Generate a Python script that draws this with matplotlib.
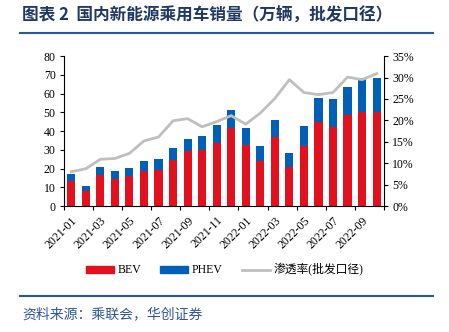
import numpy as np
import matplotlib
matplotlib.use('Agg')
import matplotlib.pyplot as plt
from matplotlib.lines import Line2D
from matplotlib.patches import Patch

months = ['2021-01', '2021-02', '2021-03', '2021-04', '2021-05', '2021-06',
          '2021-07', '2021-08', '2021-09', '2021-10', '2021-11', '2021-12',
          '2022-01', '2022-02', '2022-03', '2022-04', '2022-05', '2022-06',
          '2022-07', '2022-08', '2022-09', '2022-10']
bev = [13.3, 8.0, 16.4, 14.6, 16.0, 18.7, 19.4, 24.4, 29.2, 29.9, 33.6, 41.8,
       32.5, 24.0, 36.6, 20.8, 32.0, 44.8, 42.1, 48.4, 50.3, 50.3]
total = [17.1, 10.7, 20.8, 18.8, 20.4, 23.8, 25.2, 30.9, 35.9, 37.3, 43.4, 51.0,
         41.6, 32.2, 46.0, 28.4, 42.7, 57.6, 56.9, 63.6, 68.2, 68.1]
phev = [t - b for t, b in zip(total, bev)]
rate = [8.0, 8.7, 10.9, 11.1, 12.3, 15.2, 16.1, 19.9, 20.4, 18.5, 19.7, 21.1,
        19.1, 21.7, 25.1, 29.5, 26.5, 26.0, 26.5, 30.1, 29.5, 30.9]

red = '#E3101E'
blue = '#0060B8'
grey = '#BFBFBF'
serif = 'Liberation Serif'
cjk = 'Noto Sans CJK SC'

fig = plt.figure(figsize=(4.49, 3.32), dpi=100)
ax = fig.add_axes([0.1425, 0.3795, 0.7125, 0.4515])
x = np.arange(len(months))
ax.bar(x, bev, width=0.56, color=red, zorder=2)
ax.bar(x, phev, width=0.56, bottom=bev, color=blue, zorder=2)
ax.set_xlim(-0.5, len(months) - 0.5)
ax.set_ylim(0, 80)
ax.set_yticks(range(0, 81, 10))

# penetration rate on the right axis, drawn over the bars
ax2 = ax.twinx()
ax2.plot(x, rate, color=grey, lw=2.0, zorder=3)
ax2.set_ylim(0, 35)
ax2.set_yticks(range(0, 36, 5))
ax2.set_yticklabels([f'{v}%' for v in range(0, 36, 5)])

for a in (ax, ax2):
    a.spines['top'].set_visible(False)
    a.tick_params(axis='y', direction='out', length=3, width=0.8, labelsize=8.5, pad=3)
    for lbl in a.get_yticklabels():
        lbl.set_fontfamily(serif)
ax.spines['right'].set_visible(False)
ax2.spines['left'].set_visible(False)
ax2.spines['bottom'].set_visible(False)

ax.set_xticks(x[::2])
ax.set_xticklabels(months[::2], rotation=45, ha='right', rotation_mode='anchor',
                   fontfamily=serif, fontsize=8.5)
ax.tick_params(axis='x', length=0, pad=6)
ax.set_xticks(np.arange(-0.5, len(months), 2), minor=True)
ax.tick_params(axis='x', which='minor', length=3, width=0.8, direction='out')

handles = [Patch(color=red, label='BEV'), Patch(color=blue, label='PHEV'),
           Line2D([], [], color=grey, lw=2.0, label='渗透率(批发口径)')]
leg = fig.legend(handles=handles, loc='center', bbox_to_anchor=(0.5, 0.187), ncol=3,
                 frameon=False, handlelength=2.4, handleheight=0.5, columnspacing=1.6,
                 handletextpad=0.3, fontsize=8.5)
for t in leg.get_texts():
    t.set_fontfamily([serif, cjk])

fig.text(0.049, 0.953, '图表 2  国内新能源乘用车销量（万辆，批发口径）', fontsize=12,
         fontweight='bold', color='#1F3864', fontfamily=cjk, va='center')
fig.add_artist(Line2D([0.045, 0.965], [0.901, 0.901], color='#2E5597', lw=1.5))
fig.add_artist(Line2D([0.045, 0.965], [0.108, 0.108], color='#2E5597', lw=1.5))
fig.text(0.049, 0.054, '资料来源：乘联会，华创证券', fontsize=10, color='#2F5597',
         fontfamily=cjk, va='center', style='italic')

fig.savefig('out.png', dpi=100)
